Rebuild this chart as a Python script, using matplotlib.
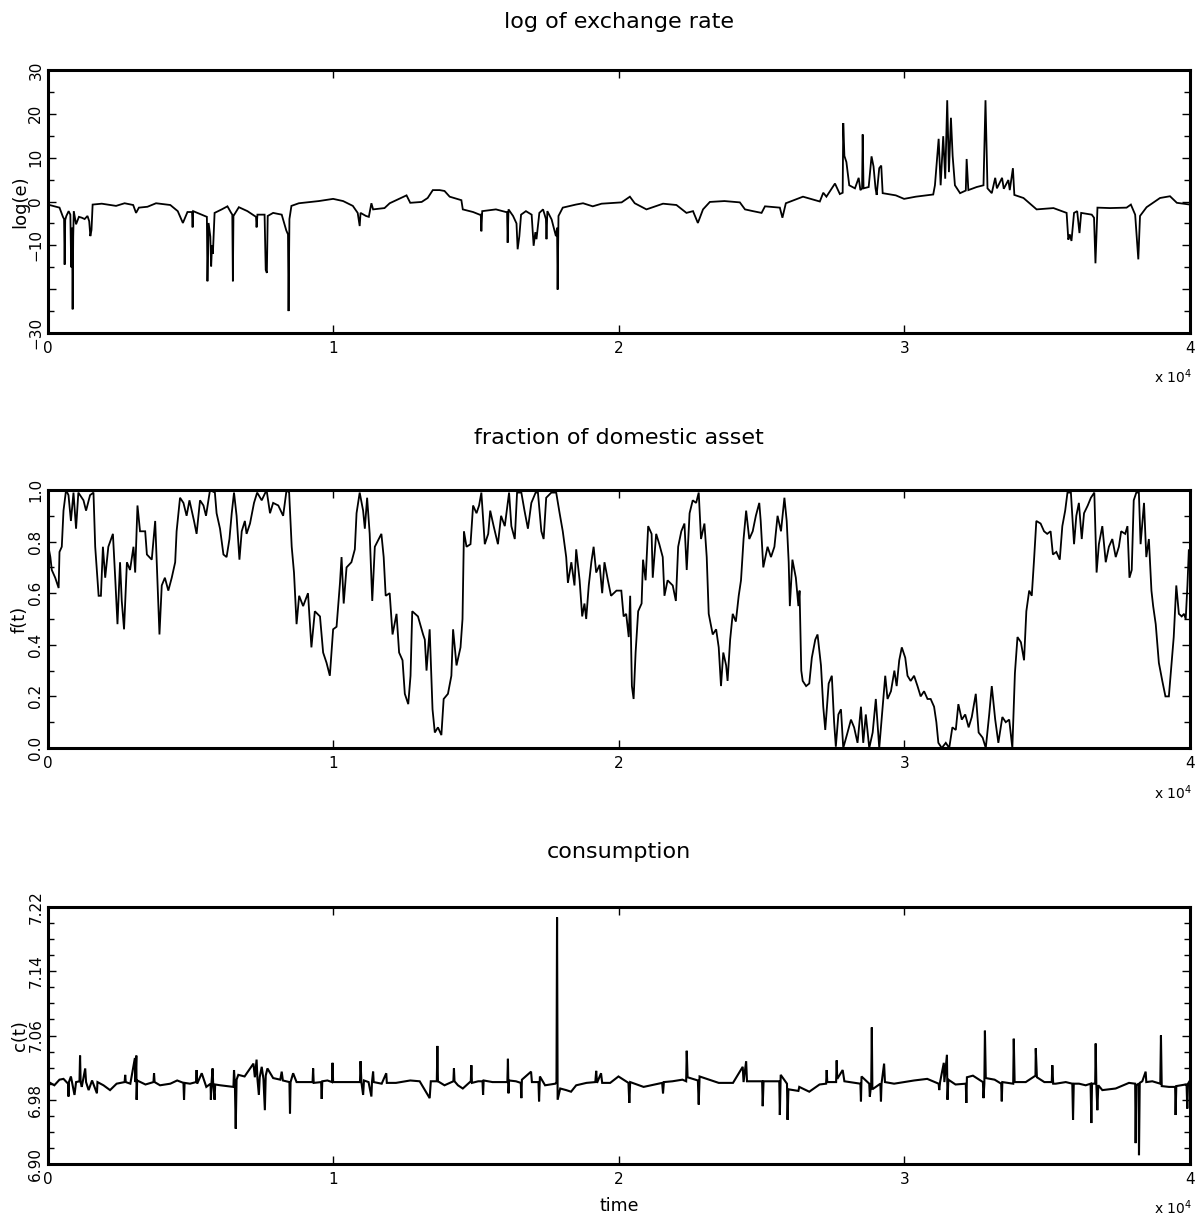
import matplotlib
matplotlib.use("Agg")
import matplotlib.pyplot as plt
from matplotlib.ticker import MultipleLocator, FixedLocator, FixedFormatter

plt.rcParams['font.family'] = ['DejaVu Sans']

# ---------------- data: log of exchange rate ----------------
time_e = [0, 70, 420, 540, 580, 600, 620, 660, 740, 800, 830, 860, 880, 900, 920, 1000, 1100, 1200,
          1300, 1400, 1460, 1500, 1540, 1580, 1900, 2400, 2700, 3000, 3100, 3200, 3500, 3800, 4300,
          4560, 4740, 4900, 5060, 5080, 5100, 5400, 5580, 5600, 5640, 5700, 5730, 5760, 5790, 5850,
          6100, 6300, 6430, 6470, 6490, 6510, 6700, 7000, 7300, 7320, 7350, 7600, 7640, 7680, 7710,
          7900, 8200, 8360, 8420, 8440, 8470, 8540, 8800, 9500, 10000, 10350, 10690, 10860, 10930,
          10960, 11150, 11250, 11340, 11400, 11800, 11980, 12570, 12700, 13100, 13310, 13490, 13730,
          13900, 14080, 14490, 14540, 14900, 15130, 15170, 15190, 15220, 15700, 16050, 16090, 16110,
          16140, 16300, 16420, 16460, 16520, 16580, 16750, 16950, 17020, 17080, 17120, 17220, 17350,
          17450, 17470, 17500, 17650, 17800, 17840, 17860, 17890, 18040, 18500, 18750, 19090, 19400,
          20100, 20390, 20560, 20970, 21550, 22020, 22370, 22600, 22770, 22950, 23190, 23700, 24240,
          24420, 24700, 25000, 25120, 25640, 25730, 25850, 26450, 27040, 27160, 27270, 27570, 27740,
          27840, 27860, 27900, 27970, 28070, 28270, 28400, 28460, 28520, 28540, 28570, 28750, 28850,
          28920, 28990, 29030, 29120, 29190, 29240, 29700, 29990, 30400, 31010, 31070, 31200, 31270,
          31360, 31430, 31500, 31560, 31630, 31690, 31770, 31950, 32150, 32180, 32240, 32530, 32770,
          32840, 32910, 33060, 33180, 33240, 33420, 33480, 33640, 33690, 33800, 33850, 34170, 34630,
          35220, 35680, 35740, 35790, 35850, 35940, 36050, 36130, 36190, 36560, 36640, 36690, 36760,
          37200, 37780, 37930, 38080, 38190, 38250, 38480, 38950, 39300, 39540, 40000]
log_e = [-1.0, -0.8, -1.4, -3.5, -4.0, -14.4, -4.2, -3.3, -2.2, -3.0, -15.0, -6.0, -24.6, -8.0, -2.2,
         -5.2, -3.5, -3.7, -4.0, -3.3, -4.5, -7.9, -6.5, -0.7, -0.5, -1.0, -0.4, -0.8, -2.6, -1.4,
         -1.2, -0.4, -0.8, -2.2, -4.9, -2.4, -2.4, -5.9, -2.2, -3.0, -3.5, -18.2, -4.9, -8.0, -14.8,
         -10.0, -11.9, -2.6, -1.8, -1.1, -2.6, -3.0, -18.2, -3.3, -1.3, -2.2, -3.5, -5.9, -3.0, -3.0,
         -15.6, -16.3, -3.3, -2.6, -3.0, -6.6, -7.5, -25.0, -4.0, -1.0, -0.4, 0.1, 0.6, 0.1, -1.0,
         -2.6, -5.6, -2.6, -3.3, -3.5, -0.4, -1.8, -1.5, -0.4, 1.4, -0.3, -0.1, 0.8, 2.6, 2.6, 2.4,
         1.1, 0.3, -1.8, -2.4, -3.0, -3.0, -6.8, -2.2, -1.8, -2.4, -2.4, -9.4, -1.8, -3.3, -5.0,
         -10.9, -7.9, -3.0, -2.2, -3.0, -10.1, -7.0, -8.6, -2.6, -1.8, -4.0, -8.6, -2.2, -4.1, -7.9,
         -6.0, -20.1, -3.3, -1.4, -0.7, -0.4, -1.1, -0.5, -0.2, 1.1, -0.4, -1.8, -0.5, -0.8, -2.6,
         -2.2, -4.9, -1.8, -0.1, 0.1, -0.2, -1.8, -2.2, -2.6, -1.1, -1.4, -3.7, -0.4, 1.1, 0.0, 2.0,
         1.1, 4.1, 1.7, 2.0, 17.9, 10.4, 9.0, 3.7, 3.0, 5.4, 2.6, 3.0, 15.3, 3.0, 3.3, 10.3, 8.0,
         3.0, 1.5, 7.6, 8.2, 1.9, 1.4, 0.6, 1.1, 1.6, 3.7, 14.3, 3.7, 14.9, 5.2, 23.1, 6.7, 19.1,
         10.4, 3.7, 1.9, 2.5, 9.7, 2.6, 3.3, 3.7, 23.1, 3.0, 1.9, 5.4, 3.0, 5.4, 2.9, 4.9, 2.6, 7.6,
         1.5, 0.8, -1.8, -1.5, -2.6, -8.7, -7.5, -9.0, -2.6, -2.2, -7.2, -2.6, -3.0, -3.7, -14.1,
         -1.4, -1.5, -1.4, -0.7, -3.0, -13.2, -3.3, -1.3, 0.8, 1.2, -0.3, -0.7]

# ---------------- data: fraction of domestic asset ----------------
time_f = [0, 100, 150, 270, 390, 420, 500, 560, 650, 735, 820, 910, 1000, 1080, 1260, 1350, 1490, 1610,
          1670, 1790, 1870, 1940, 2020, 2130, 2290, 2370, 2450, 2540, 2600, 2680, 2780, 2890, 3010,
          3070, 3150, 3240, 3420, 3480, 3650, 3770, 3920, 4000, 4110, 4230, 4350, 4470, 4520, 4640,
          4760, 4870, 4970, 5130, 5220, 5340, 5460, 5550, 5690, 5860, 5920, 6040, 6160, 6270, 6370,
          6450, 6530, 6620, 6720, 6800, 6910, 6970, 7090, 7230, 7340, 7500, 7670, 7790, 7900, 8080,
          8250, 8370, 8460, 8550, 8630, 8720, 8810, 8950, 9120, 9240, 9360, 9540, 9650, 9770, 9885,
          10000, 10120, 10240, 10295, 10370, 10470, 10640, 10760, 10820, 10930, 11050, 11110, 11190,
          11280, 11370, 11460, 11690, 11770, 11840, 11980, 12080, 12220, 12310, 12430, 12510, 12630,
          12710, 12770, 12970, 13150, 13210, 13270, 13380, 13480, 13560, 13670, 13790, 13870, 14020,
          14140, 14200, 14320, 14460, 14530, 14580, 14670, 14810, 14900, 15020, 15110, 15190, 15310,
          15430, 15500, 15620, 15770, 15880, 16010, 16160, 16240, 16360, 16440, 16590, 16700, 16820,
          16940, 17090, 17170, 17290, 17370, 17460, 17640, 17810, 17930, 18040, 18160, 18220, 18340,
          18450, 18510, 18630, 18720, 18800, 18860, 18950, 19040, 19120, 19210, 19330, 19420, 19500,
          19620, 19730, 19920, 20090, 20170, 20260, 20350, 20400, 20460, 20520, 20590, 20680, 20800,
          20850, 20940, 21030, 21150, 21190, 21310, 21420, 21540, 21600, 21710, 21890, 22000, 22080,
          22190, 22300, 22380, 22480, 22590, 22710, 22800, 22880, 23000, 23080, 23150, 23290, 23410,
          23500, 23580, 23660, 23760, 23810, 23900, 23990, 24100, 24200, 24280, 24370, 24460, 24570,
          24690, 24800, 24920, 24970, 25060, 25210, 25330, 25450, 25560, 25680, 25800, 25880, 25950,
          25990, 26080, 26200, 26290, 26330, 26390, 26440, 26560, 26670, 26760, 26880, 26960, 27080,
          27160, 27230, 27350, 27460, 27540, 27600, 27690, 27780, 27860, 28010, 28130, 28240, 28360,
          28480, 28560, 28650, 28770, 28890, 29000, 29120, 29240, 29330, 29410, 29530, 29650, 29730,
          29820, 29910, 30030, 30110, 30220, 30340, 30460, 30570, 30690, 30810, 30920, 31040, 31120,
          31190, 31310, 31450, 31570, 31680, 31800, 31890, 32010, 32130, 32250, 32360, 32500, 32600,
          32740, 32850, 32970, 33060, 33180, 33290, 33430, 33550, 33670, 33780, 33870, 33960, 34080,
          34190, 34270, 34370, 34460, 34540, 34620, 34770, 34890, 35000, 35120, 35200, 35320, 35440,
          35530, 35630, 35710, 35830, 35940, 36020, 36110, 36210, 36290, 36420, 36530, 36650, 36730,
          36810, 36930, 37050, 37160, 37280, 37400, 37510, 37590, 37730, 37810, 37880, 37960, 38030,
          38120, 38210, 38270, 38390, 38470, 38560, 38650, 38710, 38800, 38910, 39030, 39140, 39260,
          39350, 39430, 39520, 39610, 39710, 39790, 39850, 39910, 39960, 40000]
frac_f = [0.80, 0.74, 0.69, 0.66, 0.62, 0.76, 0.78, 0.92, 1.0, 0.98, 0.88, 0.99, 0.85, 0.99, 0.96, 0.92,
          0.98, 0.99, 0.78, 0.59, 0.59, 0.78, 0.66, 0.78, 0.83, 0.66, 0.48, 0.72, 0.57, 0.46, 0.72,
          0.69, 0.78, 0.68, 0.94, 0.84, 0.84, 0.75, 0.73, 0.88, 0.44, 0.63, 0.66, 0.61, 0.66, 0.72,
          0.84, 0.97, 0.95, 0.90, 0.96, 0.88, 0.83, 0.96, 0.94, 0.90, 1.0, 0.99, 0.91, 0.85, 0.75,
          0.74, 0.81, 0.91, 0.99, 0.90, 0.73, 0.84, 0.88, 0.83, 0.87, 0.95, 0.99, 0.96, 1.0, 0.91,
          0.95, 0.94, 0.90, 1.0, 0.99, 0.78, 0.68, 0.48, 0.59, 0.55, 0.60, 0.39, 0.53, 0.51, 0.37,
          0.33, 0.28, 0.46, 0.47, 0.64, 0.74, 0.56, 0.70, 0.72, 0.77, 0.91, 0.99, 0.92, 0.85, 0.97,
          0.83, 0.57, 0.78, 0.83, 0.74, 0.59, 0.60, 0.44, 0.52, 0.37, 0.34, 0.21, 0.17, 0.28, 0.53,
          0.51, 0.44, 0.42, 0.30, 0.46, 0.15, 0.06, 0.08, 0.05, 0.19, 0.21, 0.28, 0.46, 0.32, 0.39,
          0.50, 0.84, 0.78, 0.79, 0.94, 0.91, 0.94, 0.99, 0.79, 0.83, 0.92, 0.86, 0.79, 0.90, 0.86,
          0.99, 0.86, 0.81, 0.99, 0.99, 0.92, 0.85, 0.95, 0.99, 0.99, 0.84, 0.81, 0.97, 0.99, 0.99,
          0.91, 0.84, 0.74, 0.64, 0.72, 0.63, 0.77, 0.65, 0.51, 0.56, 0.50, 0.63, 0.72, 0.78, 0.68,
          0.71, 0.60, 0.72, 0.65, 0.59, 0.61, 0.61, 0.51, 0.52, 0.43, 0.59, 0.24, 0.19, 0.37, 0.53,
          0.56, 0.73, 0.65, 0.86, 0.83, 0.66, 0.83, 0.79, 0.74, 0.59, 0.65, 0.63, 0.57, 0.78, 0.84,
          0.87, 0.69, 0.91, 0.96, 0.95, 0.99, 0.81, 0.87, 0.74, 0.52, 0.44, 0.46, 0.39, 0.24, 0.37,
          0.32, 0.26, 0.42, 0.52, 0.49, 0.59, 0.65, 0.81, 0.92, 0.81, 0.84, 0.90, 0.95, 0.88, 0.70,
          0.78, 0.74, 0.78, 0.90, 0.84, 0.97, 0.88, 0.72, 0.55, 0.73, 0.66, 0.55, 0.61, 0.30, 0.26,
          0.24, 0.25, 0.35, 0.42, 0.44, 0.32, 0.16, 0.07, 0.25, 0.28, 0.10, 0.005, 0.13, 0.15, 0.0,
          0.06, 0.11, 0.08, 0.02, 0.16, 0.02, 0.13, 0.0, 0.06, 0.19, 0.0, 0.16, 0.28, 0.19, 0.22,
          0.30, 0.24, 0.34, 0.39, 0.35, 0.28, 0.26, 0.28, 0.24, 0.20, 0.22, 0.19, 0.19, 0.16, 0.10,
          0.02, 0.0, 0.02, 0.0, 0.08, 0.07, 0.17, 0.11, 0.13, 0.08, 0.12, 0.21, 0.06, 0.04, 0.0, 0.13,
          0.24, 0.11, 0.02, 0.12, 0.10, 0.11, 0.0, 0.29, 0.43, 0.41, 0.34, 0.53, 0.61, 0.59, 0.73,
          0.88, 0.87, 0.84, 0.83, 0.84, 0.75, 0.76, 0.73, 0.86, 0.92, 0.99, 0.99, 0.79, 0.90, 0.95,
          0.81, 0.91, 0.94, 0.97, 0.99, 0.68, 0.79, 0.86, 0.72, 0.78, 0.81, 0.74, 0.78, 0.84, 0.83,
          0.86, 0.66, 0.69, 0.96, 0.99, 0.99, 0.79, 0.95, 0.74, 0.81, 0.61, 0.55, 0.48, 0.33, 0.26,
          0.20, 0.20, 0.32, 0.43, 0.63, 0.52, 0.51, 0.52, 0.50, 0.63, 0.77, 0.70]

# ---------------- data: consumption ----------------
time_c = [0, 240, 420, 560, 720, 735, 750, 820, 945, 1000, 1120, 1140, 1160, 1200, 1320, 1350, 1440,
          1560, 1730, 1750, 1960, 2190, 2420, 2700, 2720, 2740, 2900, 3060, 3080, 3110, 3120, 3140,
          3430, 3710, 3730, 3750, 3940, 4300, 4540, 4760, 4780, 4800, 4990, 5200, 5220, 5240, 5400,
          5560, 5710, 5720, 5740, 5780, 5800, 5850, 5870, 6050, 6280, 6510, 6530, 6560, 6590, 6620,
          6680, 6900, 7210, 7260, 7320, 7350, 7400, 7430, 7500, 7560, 7610, 7640, 7700, 7900, 8150,
          8200, 8240, 8470, 8490, 8510, 8600, 8720, 9000, 9280, 9300, 9320, 9580, 9600, 9620, 9800,
          9960, 9980, 10000, 10360, 10730, 10940, 10960, 10990, 11050, 11080, 11240, 11340, 11360,
          11400, 11420, 11700, 11860, 11880, 12200, 12700, 13030, 13380, 13420, 13630, 13650, 13670,
          13900, 14210, 14230, 14250, 14370, 14540, 14820, 14840, 14860, 15080, 15230, 15250, 15270,
          15580, 16100, 16120, 16140, 16160, 16400, 16570, 16590, 16610, 16930, 16960, 17190, 17210,
          17240, 17420, 17780, 17820, 17840, 17860, 17950, 18160, 18330, 18510, 18870, 19180, 19210,
          19240, 19380, 19420, 19700, 19990, 20340, 20370, 20400, 20870, 21520, 21550, 21580, 21880,
          22230, 22360, 22380, 22410, 22770, 22800, 22830, 23160, 23500, 24000, 24340, 24370, 24460,
          24490, 24600, 25020, 25040, 25070, 25300, 25620, 25640, 25670, 25890, 25910, 25940, 26290,
          26320, 26670, 27030, 27260, 27280, 27300, 27610, 27630, 27650, 27840, 27900, 28460, 28480,
          28500, 28770, 28790, 28840, 28860, 28880, 29160, 29180, 29200, 29290, 29320, 29640, 29990,
          30340, 30800, 31200, 31220, 31250, 31380, 31400, 31490, 31510, 31540, 31790, 32150, 32170,
          32190, 32400, 32750, 32770, 32800, 32820, 32850, 33160, 33390, 33410, 33430, 33810, 33830,
          33860, 34250, 34590, 34600, 34640, 34900, 35160, 35180, 35210, 35300, 35650, 35880, 35905,
          35930, 36115, 36348, 36520, 36546, 36570, 36680, 36698, 36720, 36756, 36790, 36931, 37397,
          37863, 38080, 38097, 38120, 38200, 38214, 38240, 38330, 38447, 38470, 38680, 38960, 38983,
          39010, 39263, 39480, 39496, 39520, 39846, 39880, 39905, 39930, 40000]
cons_c = [7.003, 6.998, 7.005, 7.006, 7.000, 6.984, 7.002, 7.009, 6.986, 7.002, 7.003, 7.035, 7.002,
          6.996, 7.019, 7.002, 6.992, 7.004, 6.988, 7.002, 6.998, 6.992, 7.000, 7.002, 7.011, 7.002,
          7.000, 7.032, 7.002, 7.035, 6.980, 7.004, 6.999, 7.002, 7.013, 7.002, 6.998, 7.000, 7.004,
          7.001, 6.980, 7.001, 7.000, 7.002, 7.017, 7.000, 7.013, 6.996, 7.000, 6.980, 7.000, 7.019,
          7.000, 6.980, 6.999, 6.998, 6.997, 6.996, 7.017, 7.000, 6.944, 7.005, 7.011, 7.009, 7.025,
          7.008, 7.030, 7.006, 6.986, 7.008, 7.021, 7.006, 6.967, 7.010, 7.019, 7.007, 7.005, 7.015,
          7.004, 7.002, 6.963, 7.002, 7.013, 7.002, 7.002, 7.002, 7.019, 7.001, 7.002, 6.981, 7.003,
          7.004, 7.002, 7.026, 7.002, 7.002, 7.002, 7.002, 7.028, 7.002, 6.986, 7.004, 7.002, 6.984,
          7.002, 7.015, 7.002, 7.000, 7.013, 7.001, 7.001, 7.004, 7.003, 6.982, 7.003, 7.003, 7.047,
          7.003, 6.998, 7.003, 7.019, 7.003, 6.998, 6.994, 7.003, 7.023, 7.001, 7.003, 7.003, 6.986,
          7.004, 7.002, 7.002, 7.031, 6.988, 7.004, 7.003, 7.001, 6.982, 7.005, 7.015, 7.002, 7.002,
          6.978, 7.009, 6.998, 7.000, 7.002, 7.207, 6.980, 6.994, 6.992, 6.990, 6.998, 7.001, 7.002,
          7.016, 7.001, 7.013, 7.001, 7.001, 7.009, 7.001, 6.976, 7.002, 6.996, 7.001, 6.988, 7.002,
          7.003, 7.005, 7.003, 7.041, 7.008, 7.004, 6.974, 7.009, 7.005, 7.001, 7.001, 7.021, 7.002,
          7.028, 7.003, 7.003, 7.003, 6.972, 7.003, 7.003, 7.003, 6.961, 7.011, 7.000, 6.955, 6.993,
          6.991, 6.996, 6.990, 6.999, 7.000, 7.017, 7.002, 7.002, 7.029, 7.006, 7.017, 7.003, 7.000,
          6.978, 7.009, 7.000, 6.984, 7.000, 7.070, 6.993, 7.000, 6.978, 7.000, 7.025, 7.002, 7.000,
          7.002, 7.004, 7.006, 7.000, 6.992, 7.002, 7.026, 7.002, 7.036, 6.980, 7.005, 6.999, 7.000,
          6.976, 7.008, 7.010, 7.002, 6.982, 7.000, 7.066, 7.007, 7.005, 7.000, 6.978, 7.002, 7.000,
          7.056, 7.002, 7.002, 7.010, 7.044, 7.008, 7.002, 7.002, 7.023, 7.000, 7.000, 7.002, 7.000,
          6.955, 7.000, 7.000, 6.998, 7.000, 6.951, 7.000, 7.000, 7.050, 7.000, 6.967, 6.998, 6.992,
          6.994, 7.001, 7.000, 6.926, 6.998, 7.000, 6.911, 7.001, 7.003, 7.015, 7.002, 7.003, 7.000,
          7.060, 6.997, 6.996, 6.996, 6.961, 6.997, 6.999, 6.999, 6.969, 7.000, 7.004]

x_ticks = [0, 10000, 20000, 30000, 40000]
x_tick_labels = ['0', '1', '2', '3', '4']

titles = ['log of exchange rate', 'fraction of domestic asset', 'consumption']
ylabels = ['log(e)', 'f(t)', 'c(t)']
y_ticks = [[-30, -20, -10, 0, 10, 20, 30],
           [0.0, 0.2, 0.4, 0.6, 0.8, 1.0],
           [6.90, 6.98, 7.06, 7.14, 7.22]]
y_tick_labels = [['\u221230', '', '\u221210', '0', '10', '20', '30'],
                 ['0.0', '0.2', '0.4', '0.6', '0.8', '1.0'],
                 ['6.90', '6.98', '7.06', '7.14', '7.22']]
y_limits = [(-30, 30), (0, 1), (6.90, 7.22)]
y_minor = [5, 0.1, 0.02]

W, H = 1202, 1220
fig = plt.figure(figsize=(W / 100, H / 100), dpi=100)

# axes boxes in pixels: (left, top, right, bottom)
boxes = [(47.5, 70, 1190, 333), (47.5, 490, 1190, 748), (47.5, 907, 1190, 1164)]
title_y = [22, 438, 852]
xexp_y = [377, 793, 1208]
line_w = [1.3, 1.3, 1.5]

series = [(time_e, log_e), (time_f, frac_f), (time_c, cons_c)]

for i, (l, t, r, b) in enumerate(boxes):
    ax = fig.add_axes([l / W, 1 - b / H, (r - l) / W, (b - t) / H])
    xs, ys = series[i]
    ax.plot(xs, ys, color='black', lw=line_w[i], solid_joinstyle='miter')
    ax.set_xlim(0, 40000)
    ax.set_ylim(*y_limits[i])
    ax.xaxis.set_major_locator(FixedLocator(x_ticks))
    ax.xaxis.set_major_formatter(FixedFormatter(x_tick_labels))
    ax.yaxis.set_major_locator(FixedLocator(y_ticks[i]))
    ax.yaxis.set_major_formatter(FixedFormatter(y_tick_labels[i]))
    ax.yaxis.set_minor_locator(MultipleLocator(y_minor[i]))
    ax.tick_params(which='major', direction='in', top=True, right=True, length=6, width=1,
                   labelsize=11, colors='black')
    ax.tick_params(axis='x', which='major', pad=6)
    ax.tick_params(axis='y', which='major', pad=3)
    ax.tick_params(which='minor', direction='in', left=True, right=True, length=4, width=1)
    for lab in ax.get_yticklabels():
        lab.set_rotation(90)
        lab.set_va('center')
        lab.set_ha('right')
    for sp in ax.spines.values():
        sp.set_linewidth(2.2)
    cx = (l + r) / 2 / W
    fig.text(cx, 1 - title_y[i] / H, titles[i], ha='center', va='center', fontsize=16)
    fig.text(20 / W, 1 - (t + b) / 2 / H, ylabels[i], rotation=90, ha='center', va='center',
             fontsize=13)
    fig.text(1192 / W, 1 - xexp_y[i] / H, r'x $10^{4}$', ha='right', va='center', fontsize=10)

fig.text(619 / W, 1 - 1206 / H, 'time', ha='center', va='center', fontsize=12.5)

fig.savefig('out.png', dpi=100, facecolor='white')
